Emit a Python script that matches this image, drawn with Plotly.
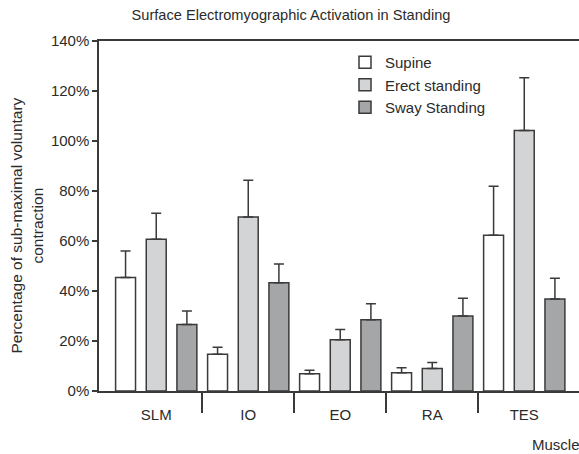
import plotly.graph_objects as go

categories = ["SLM", "IO", "EO", "RA", "TES"]
supine = [45.4, 14.7, 6.9, 7.3, 62.3]
supine_err = [10.6, 2.8, 1.4, 2.0, 19.6]
erect = [60.7, 69.6, 20.5, 9.0, 104.2]
erect_err = [10.4, 14.7, 4.1, 2.4, 21.1]
sway = [26.6, 43.3, 28.5, 30.0, 36.8]
sway_err = [5.4, 7.5, 6.4, 7.1, 8.3]
y_ticks = [0, 20, 40, 60, 80, 100, 120, 140]
y_tick_labels = [f"{v}%" for v in y_ticks]

FONT = "Arial, Liberation Sans, sans-serif"
TXT = "#2b2b2b"
EDGE = "#3a3a3a"

x_idx = list(range(len(categories)))

fig = go.Figure()
series = [
    ("Supine", supine, supine_err, "#ffffff"),
    ("Erect standing", erect, erect_err, "#d3d4d6"),
    ("Sway Standing", sway, sway_err, "#a5a6a8"),
]
for name, vals, errs, col in series:
    fig.add_trace(go.Bar(
        name=name, x=x_idx, y=vals,
        marker=dict(color=col, line=dict(color=EDGE, width=1.5)),
        error_y=dict(type="data", symmetric=False, array=errs,
                     arrayminus=[0] * len(errs),
                     color=EDGE, thickness=1.5, width=5),
    ))

boundaries = [i + 0.5 for i in x_idx[:-1]]

fig.update_layout(
    width=579, height=454,
    margin=dict(l=99, r=0, t=41, b=63),
    paper_bgcolor="white", plot_bgcolor="white",
    barmode="group", bargap=0.0, bargroupgap=0.35,
    font=dict(family=FONT, size=15, color=TXT),
    title=dict(text="Surface Electromyographic Activation in Standing",
               x=291 / 579, xanchor="center", xref="container",
               y=1 - 15 / 454, yanchor="middle", yref="container",
               font=dict(size=14.6, color=TXT)),
    xaxis=dict(
        range=[-0.622, 4.595], tickvals=x_idx, ticktext=categories,
        ticks="", showline=True, linecolor=EDGE, linewidth=1.5,
        mirror=True, showgrid=False, zeroline=False,
        ticklabelstandoff=9,
        minor=dict(tickvals=boundaries, ticks="outside", ticklen=20,
                   tickcolor=EDGE, tickwidth=1.5, showgrid=False),
    ),
    yaxis=dict(
        range=[0, 140], tickvals=y_ticks, ticktext=y_tick_labels,
        ticks="outside", ticklen=5, tickcolor=EDGE, tickwidth=1.5,
        showline=True, linecolor=EDGE, linewidth=1.5,
        showgrid=False, zeroline=False,
    ),
    legend=dict(x=(345 - 99) / 480, y=1 - 5 / 349, xanchor="left", yanchor="top",
                bgcolor="rgba(0,0,0,0)", font=dict(size=15, color=TXT),
                traceorder="normal"),
    annotations=[
        dict(text="Percentage of sub-maximal voluntary<br>contraction",
             textangle=-90, xref="paper", yref="paper",
             x=(27 - 99) / 480, y=(390 - 225) / 349,
             xanchor="center", yanchor="middle", showarrow=False,
             font=dict(size=15.5, color=TXT)),
        dict(text="Muscle", xref="paper", yref="paper",
             x=(530 - 99) / 480, y=-(443 - 390) / 349,
             xanchor="left", yanchor="middle", showarrow=False,
             font=dict(size=15, color=TXT)),
    ],
)

fig.write_html("out.html", config={"displayModeBar": False},
               post_script="document.body.style.margin='0';")
